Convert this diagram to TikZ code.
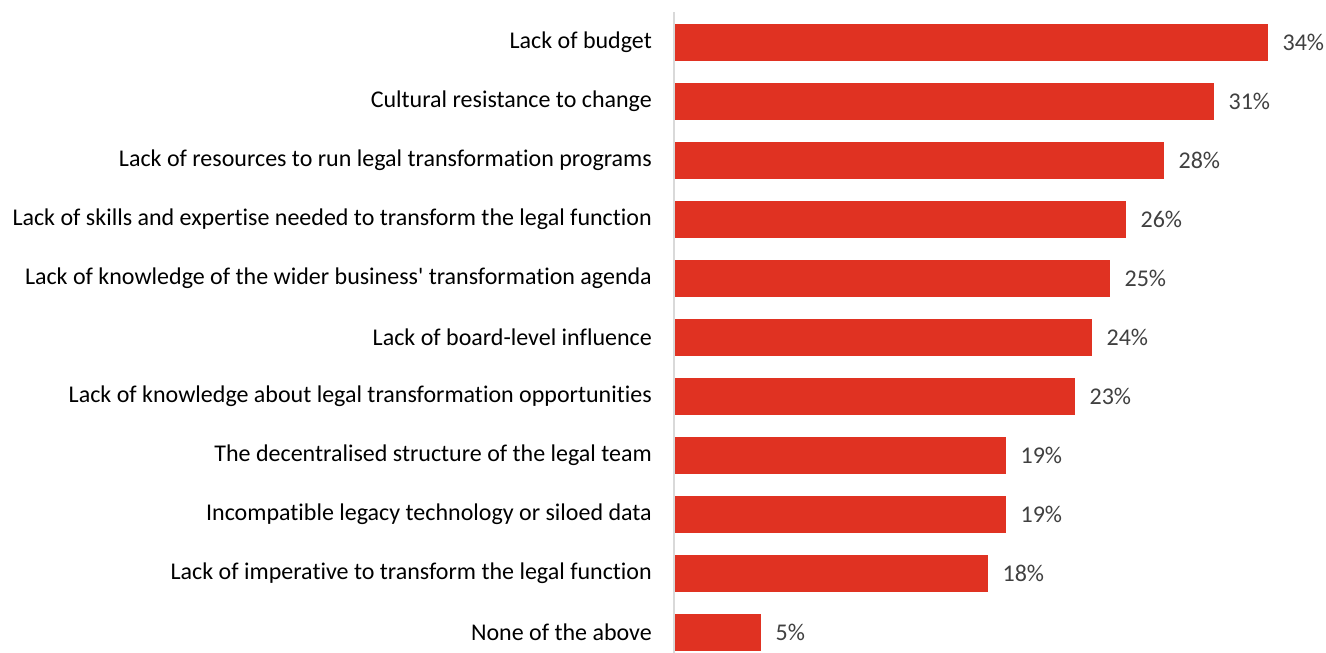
\documentclass[tikz,border=0pt]{standalone}
\usepackage{fontspec}
\newfontfamily\calib[Ligatures=NoCommon]{Carlito}
\definecolor{barred}{HTML}{E03222}
\definecolor{axisgray}{HTML}{D9D9D9}
\definecolor{pctgray}{HTML}{404040}
\begin{document}
\begin{tikzpicture}[x=1pt,y=1pt,
  bar/.style={fill=barred, draw=none, inner sep=0pt, minimum height=37pt, anchor=west},
  cat/.style={anchor=east, inner sep=0pt, font=\calib\fontsize{24}{27}\selectfont, text=black},
  pct/.style={anchor=west, inner sep=0pt, font=\calib\fontsize{24}{27}\selectfont, text=pctgray}]
\useasboundingbox (0,0) rectangle (1326,-653);
\coordinate (axtop) at (674,-12);
\coordinate (axbot) at (674,-653);
\foreach \i/\w/\p/\t in {
 1/593/34/{Lack of budget},
 2/539/31/{Cultural resistance to change},
 3/489/28/{Lack of resources to run legal transformation programs},
 4/451/26/{Lack of skills and expertise needed to transform the legal function},
 5/435/25/{Lack of knowledge of the wider business' transformation agenda},
 6/417/24/{Lack of board-level influence},
 7/400/23/{Lack of knowledge about legal transformation opportunities},
 8/331/19/{The decentralised structure of the legal team},
 9/331/19/{Incompatible legacy technology or siloed data},
 10/313/18/{Lack of imperative to transform the legal function},
 11/86/5/{None of the above}} {
  \pgfmathsetmacro{\yy}{-42.5-(\i-1)*58.95}
  \node[bar, minimum width=\w pt] (b\i) at (675,\yy) {};
  \node[pct] (p\i) at ([xshift=14pt]b\i.east) {\p\%};
  \node[cat] (c\i) at (652,\yy) {\t};
}
\draw[axisgray, line width=1.2pt] (axtop) -- (axbot);
\end{tikzpicture}
\end{document}
